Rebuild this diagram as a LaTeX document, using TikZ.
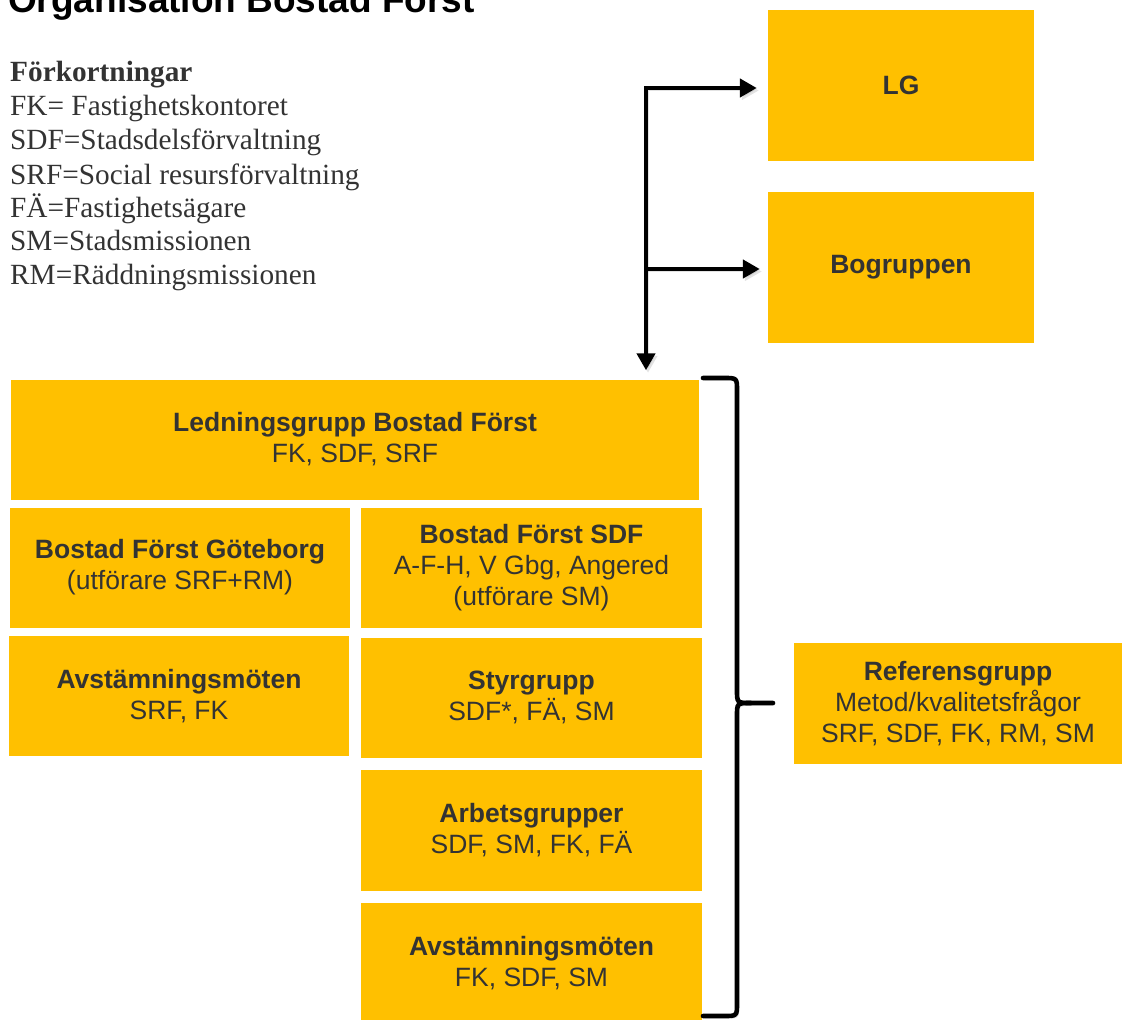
\documentclass[tikz,border=0pt]{standalone}
\usepackage{fontspec}
\setmainfont{Liberation Serif}
\setsansfont{Liberation Sans}
\usetikzlibrary{arrows.meta}
\definecolor{gold}{HTML}{FFC000}
\definecolor{txt}{HTML}{333333}
\begin{document}
\begin{tikzpicture}[x=1pt,y=-1pt,
  box/.style={fill=gold, draw=none, inner sep=0pt, text=txt, align=center,
    font=\sffamily\fontsize{26.5}{31}\selectfont},
  legend/.style={anchor=base west, inner sep=0pt, text=txt,
    font=\rmfamily\fontsize{29.3}{33}\selectfont},
  conn/.style={line width=4.6pt, -{Triangle[length=17pt,width=18pt]}},
  shade/.style={preaction={draw=black!45, opacity=0.25, transform canvas={shift={(2pt,-2.5pt)}}}},
  bracestyle/.style={line width=4.6pt, line cap=round, line join=round}]
\useasboundingbox (0,0) rectangle (1123,1019);

% title
\node[anchor=base west, inner sep=0pt, font=\sffamily\bfseries\fontsize{37}{44}\selectfont] (title) at (8,13) {Organisation Bostad Först};

% legend
\node[legend, font=\rmfamily\bfseries\fontsize{29.3}{33}\selectfont] (leg0) at (10,82) {Förkortningar};
\node[legend] (leg1) at (10,116) {FK= Fastighetskontoret};
\node[legend] (leg2) at (10,150) {SDF=Stadsdelsförvaltning};
\node[legend] (leg3) at (10,184) {SRF=Social resursförvaltning};
\node[legend] (leg4) at (10,217) {FÄ=Fastighetsägare};
\node[legend] (leg5) at (10,250) {SM=Stadsmissionen};
\node[legend] (leg6) at (10,284) {RM=Räddningsmissionen};

% boxes
\node[box, minimum width=266pt, minimum height=151pt] (lg) at (901,85.5) {\textbf{LG}};
\node[box, minimum width=266pt, minimum height=151pt] (bog) at (901,267.5) {\textbf{Bogruppen}};
\node[box, minimum width=688pt, minimum height=120pt] (ledn) at (355,439.5) {\textbf{Ledningsgrupp Bostad Först}\\FK, SDF, SRF};
\node[box, minimum width=340pt, minimum height=120pt] (bfg) at (180,567.5) {\textbf{Bostad Först Göteborg}\\(utförare SRF+RM)};
\node[box, minimum width=341pt, minimum height=120pt] (bfsdf) at (531.5,568) {\textbf{Bostad Först SDF}\\A-F-H, V Gbg, Angered\\(utförare SM)};
\node[box, minimum width=340pt, minimum height=120pt] (avst1) at (179,696) {\textbf{Avstämningsmöten}\\SRF, FK};
\node[box, minimum width=341pt, minimum height=120pt] (styr) at (531.5,697.5) {\textbf{Styrgrupp}\\SDF*, FÄ, SM};
\node[box, minimum width=341pt, minimum height=121pt] (arb) at (531.5,830.5) {\textbf{Arbetsgrupper}\\SDF, SM, FK, FÄ};
\node[box, minimum width=341pt, minimum height=120pt] (avst2) at (531.5,963) {\textbf{Avstämningsmöten}\\FK, SDF, SM};
\node[box, minimum width=328pt, minimum height=121pt] (ref) at (958,703.5) {\textbf{Referensgrupp}\\Metod/kvalitetsfrågor\\SRF, SDF, FK, RM, SM};

% connectors
\coordinate (j1) at (646,88);
\coordinate (j2) at (646,269);
\draw[conn, shade, {Triangle[length=17pt,width=18pt]}-{Triangle[length=17pt,width=18pt]}, line join=miter,
  shorten <=11pt, shorten >=9pt] (j1 -| lg.west) -- (j1) -- (j1 |- ledn.north);
\draw[conn, shade, shorten >=8pt] (j2) -- (j2 -| bog.west);

% brace
\coordinate (btop) at (703,378);
\coordinate (bbot) at (703,1016);
\coordinate (btip) at (773,703);
\draw[bracestyle, shade] (btop) -- (724,378) .. controls (737,378) .. (737,391) -- (737,690)
  .. controls (737,703) .. (751,703) -- (btip);
\draw[bracestyle, shade] (751,703) .. controls (737,703) .. (737,716) -- (737,1003)
  .. controls (737,1016) .. (724,1016) -- (bbot);
\end{tikzpicture}
\end{document}
